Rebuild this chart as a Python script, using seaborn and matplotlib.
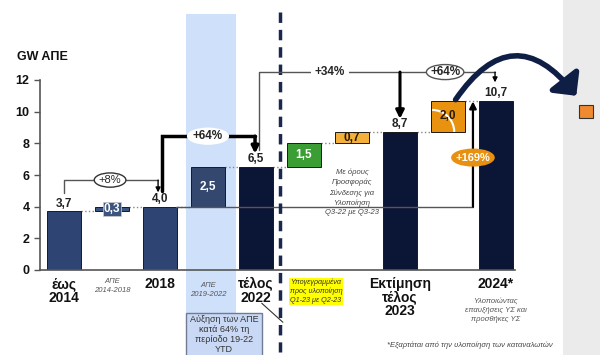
import numpy as np
import seaborn as sns
import matplotlib
matplotlib.use("Agg")
import matplotlib.pyplot as plt
from matplotlib.patches import Ellipse, Rectangle, FancyArrowPatch, Arc

# data
categories = ["έως 2014", "ΑΠΕ 2014-2018", "2018", "ΑΠΕ 2019-2022", "τέλος 2022",
              "Υπογεγραμμένα", "Προσφορά Σύνδεσης", "Εκτίμηση τέλος 2023",
              "Επαυξήσεις ΥΣ", "2024*"]
bottoms = [0, 3.7, 0, 4.0, 0, 6.5, 8.0, 0, 8.7, 0]
heights = [3.7, 0.3, 4.0, 2.5, 6.5, 1.5, 0.7, 8.7, 2.0, 10.7]
value_labels = ["3,7", "0,3", "4,0", "2,5", "6,5", "1,5", "0,7", "8,7", "2,0", "10,7"]
is_total = [True, False, True, False, True, False, False, True, False, True]
bar_colors = ["#2e4472", "#3b5580", "#2e4472", "#34486f", "#0b1535",
              "#3a9e34", "#f3b13b", "#0b1535", "#e8920f", "#0b1535"]

tick_labels = ["έως\n2014", "ΑΠΕ\n2014-2018", "2018", "ΑΠΕ\n2019-2022", "τέλος\n2022",
               "Υπογεγραμμένα\nπρος υλοποίηση\nQ1-23 με Q2-23", "",
               "Εκτίμηση\nτέλος\n2023", "", "2024*"]
tick_bold = [True, False, True, False, True, False, False, True, False, True]

growth_labels = ["+8%", "+64%", "+34%", "+64%", "+169%"]

sns.set_style("white")
plt.rcParams["font.family"] = ["Liberation Sans", "DejaVu Sans"]

fig = plt.figure(figsize=(6, 3.55), dpi=100)
ax = fig.add_axes([40 / 600, 1 - 270 / 355, 475 / 600, 190 / 355])

# grey slide panel on the right
fig.patches.append(Rectangle((563 / 600, 0), 1 - 563 / 600, 1, transform=fig.transFigure,
                             facecolor="#ebebeb", edgecolor="none", zorder=0))
fig.patches.append(Rectangle((579 / 600, 1 - 118 / 355), 14 / 600, 13 / 355,
                             transform=fig.transFigure, facecolor="#f08a30",
                             edgecolor="#333333", lw=0.8, zorder=2))

# light blue band behind the 2019-2022 step
ax.add_patch(Rectangle((2.54, -2.7), 1.04, 18.9, facecolor="#cfe0fb", edgecolor="none",
                       zorder=0, clip_on=False))

sns.barplot(x=categories, y=heights, bottom=bottoms, order=categories, color="#0b1535",
            width=0.69, errorbar=None, ax=ax, zorder=2)
for p, c in zip(ax.patches[-len(categories):], bar_colors):
    p.set_facecolor(c)
    p.set_edgecolor("#1a1a1a")
    p.set_linewidth(0.7)

# value labels
for i, (b, h, lab, tot) in enumerate(zip(bottoms, heights, value_labels, is_total)):
    if tot:
        ax.text(i, b + h + 0.12, lab, ha="center", va="bottom", fontsize=8.5,
                fontweight="bold", color="#222222", zorder=5)
    else:
        col = "#2a1a00" if bar_colors[i] in ("#f3b13b", "#e8920f") else "white"
        kw = {}
        if h < 0.5:
            kw["bbox"] = dict(boxstyle="square,pad=0.1", facecolor=bar_colors[i],
                              edgecolor="#cccccc", lw=0.5)
        ax.text(i, b + h / 2, lab, ha="center", va="center", fontsize=8.5,
                fontweight="bold", color=col, zorder=5, **kw)

# white arc drawn inside the 2,0 box
ax.add_patch(Arc((7.67, 8.72), 0.92, 2.78, theta1=0, theta2=90, color="white", lw=1.5,
                 zorder=4))

# dotted connectors
tops = [b + h for b, h in zip(bottoms, heights)]
for i in range(len(categories) - 1):
    lvl = tops[i]
    ax.plot([i + 0.345, i + 1 - 0.345], [lvl, lvl], ls=":", color="#888888", lw=1, zorder=1)

# x labels
for i, (lab, bold) in enumerate(zip(tick_labels, tick_bold)):
    if not lab:
        continue
    if bold:
        ax.text(i, -0.45, lab, ha="center", va="top", fontsize=10, fontweight="bold",
                color="#111111", linespacing=0.95)
    elif i == 5:
        ax.text(5.25, -0.55, lab, ha="center", va="top", fontsize=5.2, style="italic",
                color="#333333", linespacing=1.3,
                bbox=dict(boxstyle="square,pad=0.1", facecolor="#ffff00", edgecolor="none"))
    else:
        ax.text(i, -0.5 if i == 1 else -0.75, lab, ha="center", va="top", fontsize=5.5,
                style="italic", color="#555555", linespacing=1.5)

ax.text(9, -1.75, "Υλοποιώντας\nεπαυξήσεις ΥΣ και\nπροσθήκες ΥΣ", ha="center", va="top",
        fontsize=5.5, style="italic", color="#555555", linespacing=1.4)
ax.text(6.0, 6.4, "Με όρους\nΠροσφοράς\nΣύνδεσης για\nΥλοποίηση\nQ3-22 με Q3-23",
        ha="center", va="top", fontsize=5.5, style="italic", color="#444444", linespacing=1.5)
ax.text(8.45, -4.75, "*Εξαρτάται από την υλοποίηση των καταναλωτών", ha="center",
        va="center", fontsize=5.5, style="italic", color="#444444")

# callout box
ax.add_patch(Rectangle((2.54, -5.5), 1.58, 2.8, facecolor="#c9d9f5", edgecolor="#6f7c93",
                       lw=1, zorder=3, clip_on=False))
ax.text(3.33, -4.1, "Αύξηση των ΑΠΕ\nκατά 64% τη\nπερίοδο 19-22\nYTD", ha="center",
        va="center", fontsize=6.5, color="#333333", linespacing=1.15, zorder=4)
ax.plot([4.12, 4.56], [-2.1, -3.3], color="#333333", lw=0.8, clip_on=False, zorder=4)

# dashed separator
ax.plot([4.5, 4.5], [16.3, -5.2], color="#1a2850", lw=2.5, ls=(0, (3, 2)),
        clip_on=False, zorder=6)

# horizontal line at 4.0 level
ax.plot([2.34, 8.52], [4.0, 4.0], color="#555555", lw=1, zorder=4)


def arrow(x0, y0, x1, y1, lw=1.0, color="black", scale=8):
    ax.add_patch(FancyArrowPatch((x0, y0), (x1, y1), arrowstyle="-|>", mutation_scale=scale,
                                 lw=lw, color=color, clip_on=False, zorder=7,
                                 shrinkA=0, shrinkB=0))


# +8%
ax.plot([0, 0, 1.96], [4.85, 5.68, 5.68], color="#555555", lw=1, clip_on=False, zorder=6)
arrow(1.96, 5.68, 1.96, 4.9, lw=1, scale=7)
ax.add_patch(Ellipse((0.96, 5.68), 0.66, 0.9, facecolor="white", edgecolor="#333333",
                     lw=1, zorder=8))
ax.text(0.96, 5.68, growth_labels[0], ha="center", va="center", fontsize=8, zorder=9)

# +64% (2018 -> 2022)
ax.plot([2.05, 2.05, 3.98], [5.0, 8.45, 8.45], color="black", lw=2.5, zorder=6,
        solid_joinstyle="miter")
arrow(3.98, 8.45, 3.98, 7.35, lw=2.5, scale=10)
ax.add_patch(Ellipse((3.0, 8.45), 0.85, 1.0, facecolor="white", edgecolor="white",
                     lw=1, zorder=8))
ax.text(3.0, 8.45, growth_labels[1], ha="center", va="center", fontsize=8.5,
        fontweight="bold", zorder=9)

# +34% (2022 -> 2023)
ax.plot([4.06, 4.06, 7.0], [7.6, 12.5, 12.5], color="#555555", lw=1, clip_on=False, zorder=6)
arrow(7.0, 12.5, 7.0, 9.55, lw=2.2, scale=12)
ax.text(5.54, 12.5, growth_labels[2], ha="center", va="center", fontsize=8.5,
        fontweight="bold", zorder=9,
        bbox=dict(boxstyle="square,pad=0.3", facecolor="white", edgecolor="none"))

# +64% (2023 -> 2024)
ax.plot([7.0, 8.98], [12.5, 12.5], color="#555555", lw=1, clip_on=False, zorder=6)
arrow(8.98, 12.5, 8.98, 11.85, lw=1, scale=7)
ax.add_patch(Ellipse((7.94, 12.5), 0.78, 0.95, facecolor="white", edgecolor="#555555",
                     lw=1, zorder=8, clip_on=False))
ax.text(7.94, 12.5, growth_labels[3], ha="center", va="center", fontsize=8.5,
        fontweight="bold", zorder=9)

# +169%
arrow(8.52, 4.0, 8.52, 10.65, lw=1.6, scale=10)
ax.add_patch(Ellipse((8.52, 7.1), 0.88, 1.05, facecolor="#e8900f", edgecolor="#e8900f",
                     zorder=8))
ax.text(8.52, 7.1, growth_labels[4], ha="center", va="center", fontsize=8,
        fontweight="bold", color="white", zorder=9)

# curved arrow out of the chart
fig.patches.append(FancyArrowPatch((454 / 600, 1 - 102 / 355), (578 / 600, 1 - 98 / 355),
                                   transform=fig.transFigure,
                                   connectionstyle="arc3,rad=-0.7",
                                   arrowstyle="-|>,head_width=0.5,head_length=0.5",
                                   mutation_scale=22, lw=4, color="#0f1e45", zorder=10))

# axes
ax.set_xlim(-0.5, 9.396)
ax.set_ylim(0, 12)
ax.set_yticks(range(0, 13, 2))
ax.set_xticks([])
ax.set_xlabel("")
ax.set_ylabel("")
for lab in ax.get_yticklabels():
    lab.set_fontweight("bold")
ax.tick_params(axis="y", left=True, length=4, width=1, color="#555555", labelsize=9,
               labelcolor="#111111")
sns.despine(ax=ax)
for s in ("left", "bottom"):
    ax.spines[s].set_color("#555555")
    ax.spines[s].set_linewidth(1.2)

fig.text(17 / 600, 1 - 57 / 355, "GW ΑΠΕ", fontsize=9, fontweight="bold", color="#111111",
         va="center", ha="left")

fig.savefig("out.png", dpi=100)
